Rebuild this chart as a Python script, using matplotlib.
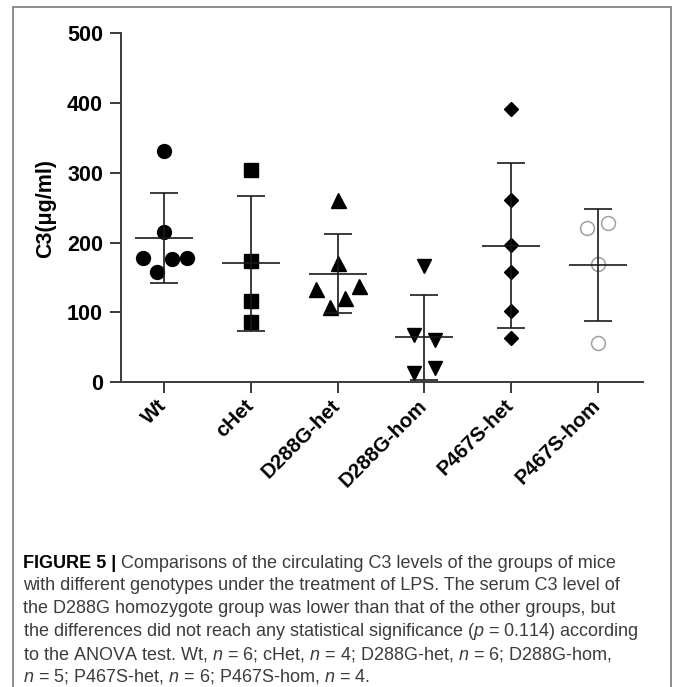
import matplotlib
matplotlib.use("Agg")
import matplotlib.pyplot as plt
from matplotlib.patches import Rectangle

plt.rcParams['font.family'] = ['Liberation Sans', 'DejaVu Sans']
plt.rcParams['mathtext.fontset'] = 'custom'
plt.rcParams['mathtext.rm'] = 'Liberation Sans'
plt.rcParams['mathtext.it'] = 'Liberation Sans:italic'
plt.rcParams['mathtext.bf'] = 'Liberation Sans:bold'

# data
groups = ["Wt", "cHet", "D288G-het", "D288G-hom", "P467S-het", "P467S-hom"]
wt = [331.5, 215.7, 178.4, 158.3, 176.0, 178.4]
chet = [303.3, 174.0, 115.8, 86.5]
d288g_het = [261.0, 171.0, 133.0, 108.0, 121.0, 137.0]
d288g_hom = [166.0, 67.0, 60.0, 20.0, 13.0]
p467s_het = [391.4, 261.2, 196.6, 158.3, 101.9, 62.7]
p467s_hom = [220.5, 228.6, 169.3, 55.5]
means = [206.7, 170.0, 155.5, 63.9, 195.5, 168.2]
sds = [64.2, 96.9, 56.5, 61.0, 118.4, 80.2]

# horizontal scatter of points inside each group
jitter = [
    [0, 0, -0.246, -0.084, 0.089, 0.26],
    [0, 0, 0, 0],
    [0, 0, -0.25, -0.09, 0.085, 0.25],
    [0, -0.12, 0.12, 0.12, -0.12],
    [0, 0, 0, 0, 0, 0],
    [-0.12, 0.12, 0, 0],
]

caption = [
    "Comparisons of the circulating C3 levels of the groups of mice",
    "with different genotypes under the treatment of LPS. The serum C3 level of",
    "the D288G homozygote group was lower than that of the other groups, but",
    "the differences did not reach any statistical significance ($p$ = 0.114) according",
    "to the ANOVA test. Wt, $n$ = 6; cHet, $n$ = 4; D288G-het, $n$ = 6; D288G-hom,",
    "$n$ = 5; P467S-het, $n$ = 6; P467S-hom, $n$ = 4.",
]

values = [wt, chet, d288g_het, d288g_hom, p467s_het, p467s_hom]
styles = [
    dict(marker='o', ms=10, color='black'),
    dict(marker='s', ms=9.6, color='black'),
    dict(marker='^', ms=10.8, color='black'),
    dict(marker='v', ms=10.4, color='black'),
    dict(marker='D', ms=7.3, color='black'),
    dict(marker='o', ms=10, mfc='none', mec='#a0a0a0', mew=1.1, color='#a0a0a0'),
]

W, H = 675, 687
fig = plt.figure(figsize=(6.75, 6.87), dpi=100)
ax = fig.add_axes([120.7 / W, 1 - 382 / H, (643 - 120.7) / W, (382 - 33.3) / H])

for i, (vals, off, st) in enumerate(zip(values, jitter, styles)):
    xs = [i + o for o in off]
    ax.plot(xs, vals, ls='none', zorder=3, **st)
    ax.errorbar(i, means[i], yerr=sds[i], fmt='none', ecolor='#1a1a1a',
                elinewidth=1.2, capsize=10.4, capthick=1.2, zorder=4)
    ax.hlines(means[i], i - 0.335, i + 0.335, color='#1a1a1a', lw=1.2, zorder=4)

ax.set_xlim(-0.5, 5.52)
ax.set_ylim(0, 500)
ax.set_yticks([0, 100, 200, 300, 400, 500])
ax.set_xticks(range(len(groups)))
ax.set_xticklabels(groups, rotation=45, ha='right', va='center', rotation_mode='anchor',
                   fontsize=14.8)
for s in ['top', 'right']:
    ax.spines[s].set_visible(False)
for s in ['left', 'bottom']:
    ax.spines[s].set_color('#3a3a3a')
    ax.spines[s].set_linewidth(1.4)
ax.tick_params(length=7.7, width=1.4, color='#3a3a3a', pad=5)
ax.tick_params(axis='y', labelsize=15.5)
ax.tick_params(axis='x', pad=7)
for lab in ax.get_xticklabels() + ax.get_yticklabels():
    lab.set_fontweight('bold')

fig.text(46 / W, 1 - 208 / H, "C3(\u03bcg/ml)", rotation=90, ha='center', va='center',
         fontsize=15.5, fontweight='bold')

# outer frame of the figure panel
fig.patches.append(Rectangle((13 / W, -0.01), (671 - 13) / W, 1 - 7 / H + 0.01,
                             transform=fig.transFigure, fill=False,
                             ec='#6e6e6e', lw=1.1))

# caption
fig.canvas.draw()
y0 = 563
step = 22.8
fs = 13
head = fig.text(23 / W, 1 - y0 / H, "FIGURE 5 |", fontsize=fs, fontweight='bold',
                color='black', va='center')
bb = head.get_window_extent(renderer=fig.canvas.get_renderer())
for k, line in enumerate(caption):
    x = (bb.x1 + 5) / W if k == 0 else 23 / W
    fig.text(x, 1 - (y0 + k * step) / H, line, fontsize=fs, color='#3c3c3c', va='center')

fig.savefig("out.png", dpi=100)
